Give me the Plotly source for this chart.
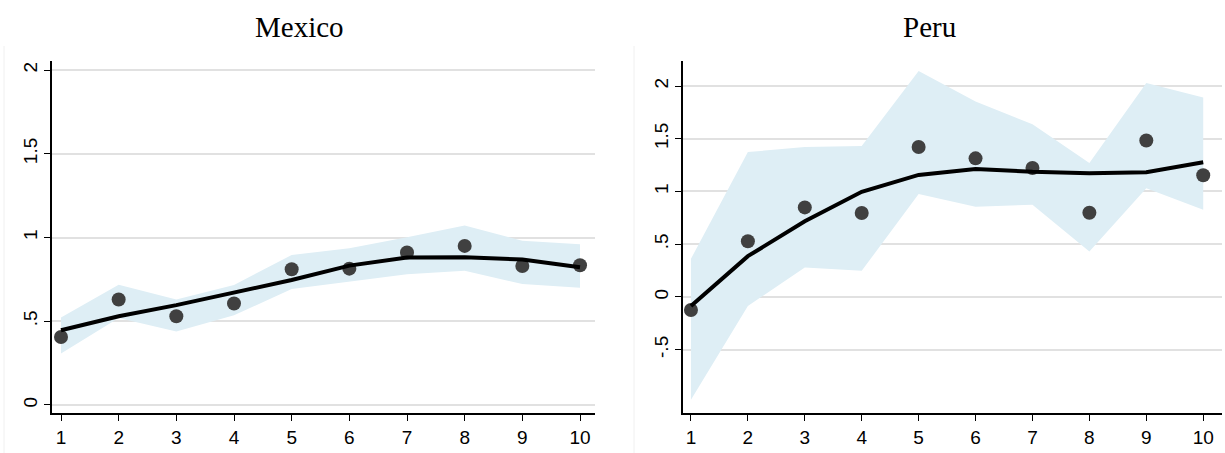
import plotly.graph_objects as go

# deciles 1..10
deciles = [1, 2, 3, 4, 5, 6, 7, 8, 9, 10]

# Mexico
mex_points = [0.406, 0.63, 0.53, 0.606, 0.81, 0.814, 0.91, 0.95, 0.83, 0.834]
mex_fit = [0.446, 0.53, 0.596, 0.668, 0.746, 0.832, 0.88, 0.882, 0.868, 0.822]
mex_upper = [0.522, 0.718, 0.63, 0.716, 0.896, 0.936, 1.002, 1.072, 0.98, 0.96]
mex_lower = [0.308, 0.52, 0.438, 0.536, 0.692, 0.738, 0.78, 0.802, 0.722, 0.70]

# Peru
per_points = [-0.123, 0.528, 0.849, 0.796, 1.421, 1.314, 1.223, 0.799, 1.484, 1.154]
per_fit = [-0.085, 0.387, 0.717, 0.997, 1.157, 1.214, 1.186, 1.173, 1.182, 1.277]
per_upper = [0.362, 1.374, 1.421, 1.431, 2.142, 1.852, 1.638, 1.270, 2.028, 1.890]
per_lower = [-0.975, -0.085, 0.28, 0.248, 0.975, 0.855, 0.874, 0.431, 1.031, 0.827]

mex_yticks = [0, 0.5, 1, 1.5, 2]
mex_yticktext = ["0", ".5", "1", "1.5", "2"]
per_yticks = [-0.5, 0, 0.5, 1, 1.5, 2]
per_yticktext = ["-.5", "0", ".5", "1", "1.5", "2"]

BAND = "rgb(222,238,245)"
DOT = "rgb(64,64,64)"

fig = go.Figure()


def add_panel(xa, ya, pts, fit, up, lo):
    # confidence band first, then dots, then the fitted line on top
    fig.add_trace(go.Scatter(x=deciles, y=lo, mode="lines", line=dict(width=0),
                             xaxis=xa, yaxis=ya, showlegend=False, hoverinfo="skip"))
    fig.add_trace(go.Scatter(x=deciles, y=up, mode="lines", line=dict(width=0),
                             fill="tonexty", fillcolor=BAND,
                             xaxis=xa, yaxis=ya, showlegend=False, hoverinfo="skip"))
    fig.add_trace(go.Scatter(x=deciles, y=pts, mode="markers",
                             marker=dict(size=14, color=DOT),
                             xaxis=xa, yaxis=ya, showlegend=False))
    fig.add_trace(go.Scatter(x=deciles, y=fit, mode="lines",
                             line=dict(color="black", width=4),
                             xaxis=xa, yaxis=ya, showlegend=False))


add_panel("x", "y", mex_points, mex_fit, mex_upper, mex_lower)
add_panel("x2", "y2", per_points, per_fit, per_upper, per_lower)

W, H = 1225, 453
ydom = [1 - 413 / H, 1 - 61 / H]
tickfont = dict(family="Liberation Sans, Arial, sans-serif", size=19, color="black")
titlefont = dict(family="Liberation Serif, Times New Roman, serif", size=29, color="black")

xcommon = dict(tickvals=deciles, ticks="outside", ticklen=6, tickcolor="black",
               showline=True, linecolor="black", linewidth=1.5, showgrid=False,
               zeroline=False, tickfont=tickfont, automargin=False)
ycommon = dict(ticks="outside", ticklen=6, tickcolor="black", tickangle=-90,
               showline=True, linecolor="black", linewidth=1.5, showgrid=True,
               gridcolor="rgb(225,225,225)", gridwidth=1.5, zeroline=False,
               tickfont=tickfont, automargin=False)

fig.update_layout(
    width=W, height=H,
    margin=dict(l=0, r=0, t=0, b=0),
    paper_bgcolor="white", plot_bgcolor="white",
    xaxis=dict(domain=[52 / W, 595 / W], range=[0.844, 10.26], anchor="y", **xcommon),
    yaxis=dict(domain=ydom, range=[-0.048, 2.054], anchor="x",
               tickvals=mex_yticks, ticktext=mex_yticktext, **ycommon),
    xaxis2=dict(domain=[683 / W, 1222 / W], range=[0.86, 10.33], anchor="y2", **xcommon),
    yaxis2=dict(domain=ydom, range=[-1.1, 2.237], anchor="x2",
                tickvals=per_yticks, ticktext=per_yticktext, **ycommon),
    annotations=[
        dict(text="Mexico", x=299.5 / W, y=1 - 27 / H, xref="paper", yref="paper",
             showarrow=False, xanchor="center", yanchor="middle", font=titlefont),
        dict(text="Peru", x=929.5 / W, y=1 - 27 / H, xref="paper", yref="paper",
             showarrow=False, xanchor="center", yanchor="middle", font=titlefont),
    ],
    shapes=[
        dict(type="line", xref="paper", yref="paper", x0=4 / W, x1=4 / W,
             y0=0, y1=1 - 46 / H, line=dict(color="rgb(240,240,240)", width=1)),
        dict(type="line", xref="paper", yref="paper", x0=634 / W, x1=634 / W,
             y0=0, y1=1 - 46 / H, line=dict(color="rgb(240,240,240)", width=1)),
    ],
)

fig.write_html("out.html", config={"displayModeBar": False},
               post_script="document.body.style.margin='0';")
